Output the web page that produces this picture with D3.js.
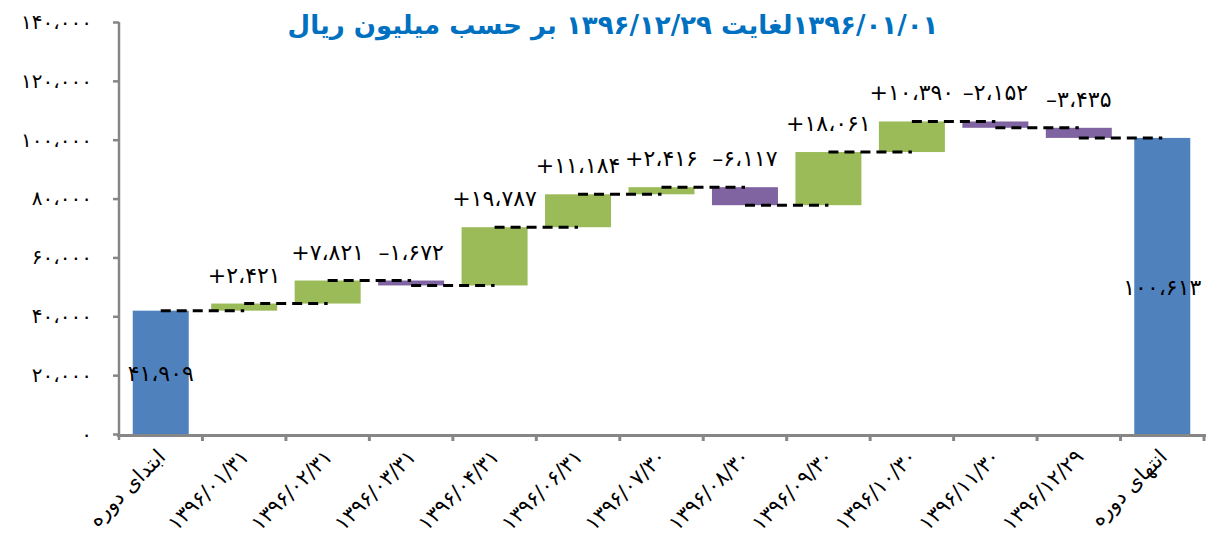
<!DOCTYPE html>
<html>
<head>
<meta charset="utf-8">
<script src="https://cdn.jsdelivr.net/npm/d3@7"></script>
<style>
  body { margin: 0; background: #fff; }
  svg { display: block; font-family: "DejaVu Sans", sans-serif; }
</style>
</head>
<body>
<svg id="chart" width="1206" height="547"></svg>
<script>
// data
const categories = ["ابتدای دوره", "۱۳۹۶/۰۱/۳۱", "۱۳۹۶/۰۲/۳۱", "۱۳۹۶/۰۳/۳۱", "۱۳۹۶/۰۴/۳۱", "۱۳۹۶/۰۶/۳۱",
  "۱۳۹۶/۰۷/۳۰", "۱۳۹۶/۰۸/۳۰", "۱۳۹۶/۰۹/۳۰", "۱۳۹۶/۱۰/۳۰", "۱۳۹۶/۱۱/۳۰", "۱۳۹۶/۱۲/۲۹", "انتهای دوره"];
const startValue = 41909;
const changes = [2421, 7821, -1672, 19787, 11184, 2416, -6117, 18061, 10390, -2152, -3435];
const endValue = 100613;
const yTicks = [0, 20000, 40000, 60000, 80000, 100000, 120000, 140000];
const title = "۱۳۹۶/۰۱/۰۱لغایت ۱۳۹۶/۱۲/۲۹ بر حسب میلیون ریال";

const faDigits = "۰۱۲۳۴۵۶۷۸۹";
const fa = s => String(s).replace(/[0-9]/g, d => faDigits[d]).replace(/,/g, "،");
const fmt = v => fa(d3.format(",")(Math.abs(v)));

// build the waterfall steps
let steps = [{ cat: categories[0], y0: 0, y1: startValue, kind: "total", value: startValue }];
let run = startValue;
changes.forEach((c, i) => {
  steps.push({ cat: categories[i + 1], y0: run, y1: run + c, kind: c >= 0 ? "up" : "down", value: c });
  run += c;
});
steps.push({ cat: categories[categories.length - 1], y0: 0, y1: endValue, kind: "total", value: endValue });

const colors = { total: "#4F81BD", up: "#9BBB59", down: "#8064A2" };
const axisColor = "#868686";

const svg = d3.select("#chart");

const x = d3.scaleBand().domain(categories).range([119, 1204]);
const y = d3.scaleLinear().domain([0, 140000]).range([434, 22]);
const bw = x.bandwidth();
const totalW = 56, deltaW = 66;

// title
svg.append("text")
  .attr("x", 613).attr("y", 34)
  .attr("text-anchor", "middle")
  .attr("direction", "rtl")
  .style("font-size", "26px")
  .style("font-weight", "bold")
  .style("fill", "#0070C0")
  .text(title);

// bars
svg.append("g").selectAll("rect")
  .data(steps)
  .enter()
  .append("rect")
  .attr("x", d => x(d.cat) + bw / 2 - (d.kind === "total" ? totalW : deltaW) / 2)
  .attr("width", d => d.kind === "total" ? totalW : deltaW)
  .attr("y", d => y(Math.max(d.y0, d.y1)))
  .attr("height", d => Math.abs(y(d.y0) - y(d.y1)))
  .style("fill", d => colors[d.kind]);

// connectors
const links = steps.slice(0, -1).map((d, i) => ({ a: d.cat, b: steps[i + 1].cat, level: d.y1 }));
svg.append("g").selectAll("line")
  .data(links)
  .enter()
  .append("line")
  .attr("x1", d => x(d.a) + bw / 2)
  .attr("x2", d => x(d.b) + bw / 2)
  .attr("y1", d => y(d.level))
  .attr("y2", d => y(d.level))
  .style("stroke", "#000")
  .style("stroke-width", 3)
  .style("stroke-dasharray", "10,6");

// value labels
svg.append("g").selectAll("text")
  .data(steps)
  .enter()
  .append("text")
  .attr("x", d => x(d.cat) + bw / 2)
  .attr("y", d => d.kind === "total" ? y(d.y1 / 2) + 9 : y(Math.max(d.y0, d.y1)) - 21)
  .attr("text-anchor", "middle")
  .style("font-size", "22px")
  .style("fill", "#000")
  .text(d => d.kind === "total" ? fmt(d.value) : (d.value > 0 ? "+" : "–") + fmt(d.value));

// y axis
const yAxis = svg.append("g")
  .attr("transform", "translate(119,0)")
  .call(d3.axisLeft(y).tickValues(yTicks).tickFormat(d => fmt(d)).tickSize(6).tickSizeOuter(0).tickPadding(21));
yAxis.select(".domain").attr("d", "M0,22V440").style("stroke", axisColor).style("stroke-width", 2.5);
yAxis.selectAll(".tick line").style("stroke", axisColor).style("stroke-width", 2.5);
yAxis.selectAll(".tick text")
  .style("font-size", "20px")
  .style("letter-spacing", "1.5px")
  .style("font-family", "DejaVu Sans, sans-serif")
  .style("fill", "#000");

// x axis (ticks at category boundaries)
const xAxis = svg.append("g");
xAxis.append("line")
  .attr("x1", 117).attr("x2", x.range()[1] + 2)
  .attr("y1", 435.5).attr("y2", 435.5)
  .style("stroke", axisColor).style("stroke-width", 3);
xAxis.selectAll(".xt")
  .data(categories.slice(1).map(c => x(c)).concat([x.range()[1]]))
  .enter()
  .append("line")
  .attr("x1", d => d).attr("x2", d => d)
  .attr("y1", 435).attr("y2", 441)
  .style("stroke", axisColor).style("stroke-width", 3);
xAxis.selectAll(".xl")
  .data(categories)
  .enter()
  .append("text")
  .attr("text-anchor", "end")
  .attr("transform", d => "translate(" + (x(d) + bw / 2 + 6) + ",458) rotate(-45)")
  .style("font-size", "21px")
  .style("letter-spacing", "1.5px")
  .style("fill", "#000")
  .text(d => d);
</script>
</body>
</html>
